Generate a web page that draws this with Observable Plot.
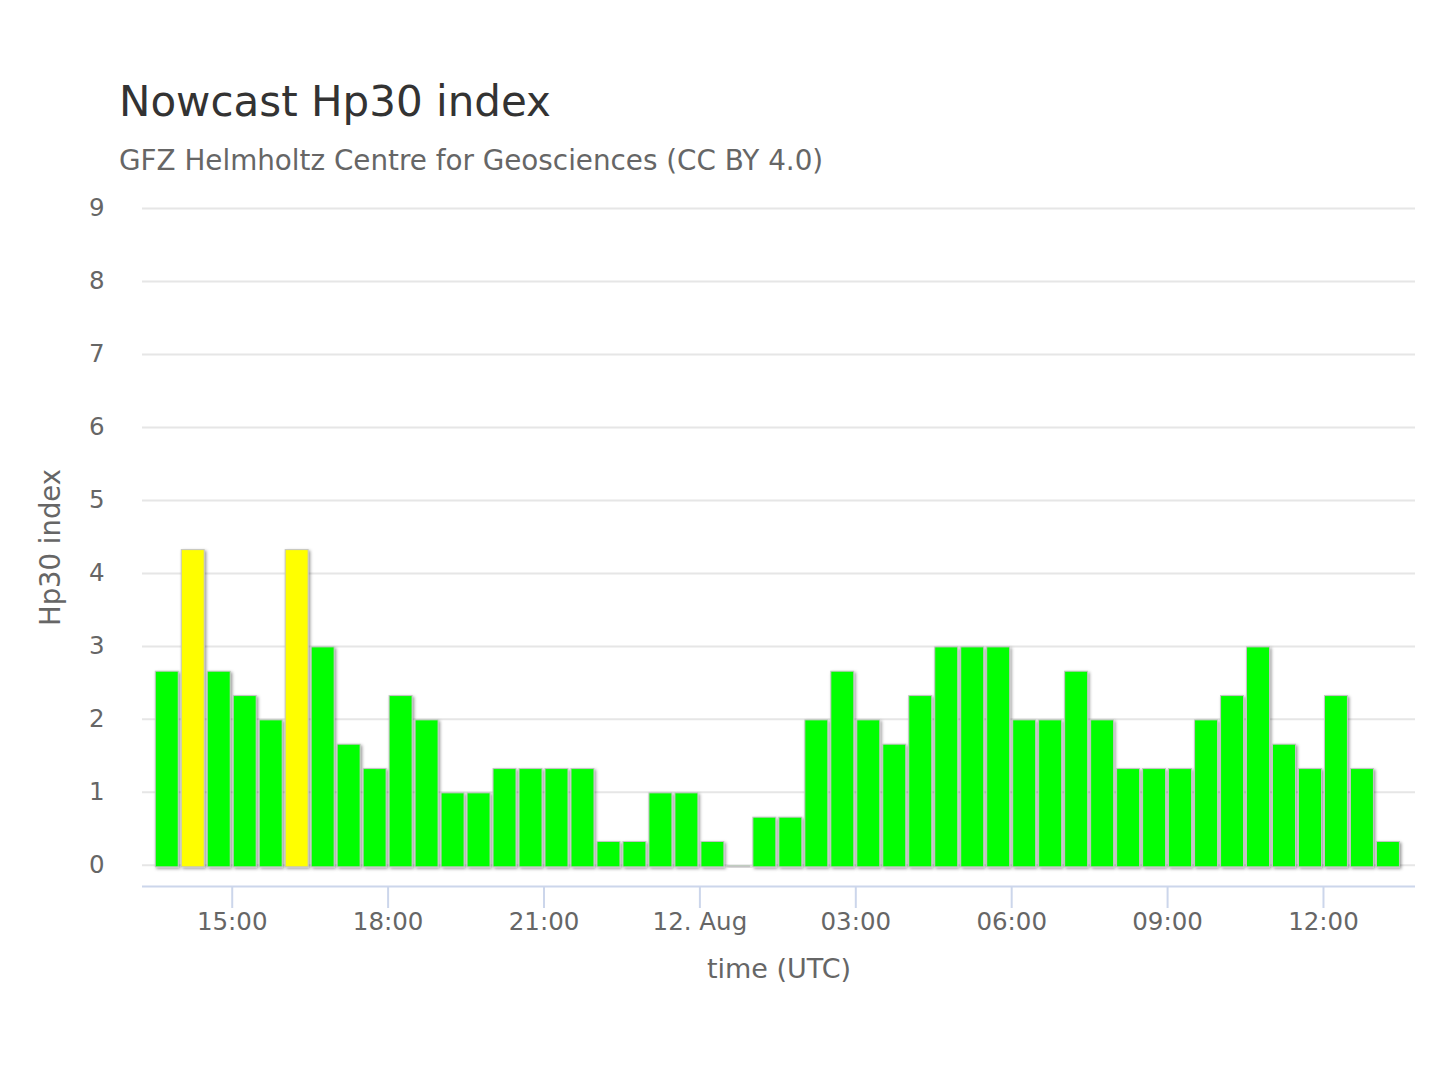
<!DOCTYPE html>
<html>
<head>
<meta charset="utf-8">
<script src="https://cdn.jsdelivr.net/npm/d3@7"></script>
<script src="https://cdn.jsdelivr.net/npm/@observablehq/plot@0.6"></script>
<style>
  html, body { margin: 0; padding: 0; background: #ffffff; }
  body { font-family: "DejaVu Sans", sans-serif; }
  #wrap { position: relative; width: 1440px; height: 1080px; overflow: hidden; }
  #title { position: absolute; left: 119px; top: 81px; font-size: 42px; line-height: 42px; color: #333333; white-space: nowrap; }
  #subtitle { position: absolute; left: 119px; top: 146.5px; font-size: 27.8px; line-height: 27.8px; color: #666666; white-space: nowrap; }
  #chart { position: absolute; left: 0; top: 190px; }
</style>
</head>
<body>
<div id="wrap">
  <div id="title">Nowcast Hp30 index</div>
  <div id="subtitle">GFZ Helmholtz Centre for Geosciences (CC BY 4.0)</div>
  <div id="chart"></div>
</div>
<script>
// 30-minute interval start times (UTC)
const intervalStarts = [
  "2024-08-11T13:30Z","2024-08-11T14:00Z","2024-08-11T14:30Z","2024-08-11T15:00Z",
  "2024-08-11T15:30Z","2024-08-11T16:00Z","2024-08-11T16:30Z","2024-08-11T17:00Z",
  "2024-08-11T17:30Z","2024-08-11T18:00Z","2024-08-11T18:30Z","2024-08-11T19:00Z",
  "2024-08-11T19:30Z","2024-08-11T20:00Z","2024-08-11T20:30Z","2024-08-11T21:00Z",
  "2024-08-11T21:30Z","2024-08-11T22:00Z","2024-08-11T22:30Z","2024-08-11T23:00Z",
  "2024-08-11T23:30Z","2024-08-12T00:00Z","2024-08-12T00:30Z","2024-08-12T01:00Z",
  "2024-08-12T01:30Z","2024-08-12T02:00Z","2024-08-12T02:30Z","2024-08-12T03:00Z",
  "2024-08-12T03:30Z","2024-08-12T04:00Z","2024-08-12T04:30Z","2024-08-12T05:00Z",
  "2024-08-12T05:30Z","2024-08-12T06:00Z","2024-08-12T06:30Z","2024-08-12T07:00Z",
  "2024-08-12T07:30Z","2024-08-12T08:00Z","2024-08-12T08:30Z","2024-08-12T09:00Z",
  "2024-08-12T09:30Z","2024-08-12T10:00Z","2024-08-12T10:30Z","2024-08-12T11:00Z",
  "2024-08-12T11:30Z","2024-08-12T12:00Z","2024-08-12T12:30Z","2024-08-12T13:00Z"
];
const intervalMinutes = 30;

// Hp30 index values
const hp30Values = [
  2.667, 4.333, 2.667, 2.333, 2.000, 4.333, 3.000, 1.667,
  1.333, 2.333, 2.000, 1.000, 1.000, 1.333, 1.333, 1.333,
  1.333, 0.333, 0.333, 1.000, 1.000, 0.333, 0.000, 0.667,
  0.667, 2.000, 2.667, 2.000, 1.667, 2.333, 3.000, 3.000,
  3.000, 2.000, 2.000, 2.667, 2.000, 1.333, 1.333, 1.333,
  2.000, 2.333, 3.000, 1.667, 1.333, 2.333, 1.333, 0.333
];

// Activity level colours
const levelThresholds = [0, 4];
const levelColors = ["#00ff00", "#ffff00"];

// Axis ticks
const yTicks = [0, 1, 2, 3, 4, 5, 6, 7, 8, 9];
const xTickTimes = [
  "2024-08-11T15:00Z","2024-08-11T18:00Z","2024-08-11T21:00Z","2024-08-12T00:00Z",
  "2024-08-12T03:00Z","2024-08-12T06:00Z","2024-08-12T09:00Z","2024-08-12T12:00Z"
];
const xDomain = ["2024-08-11T13:16:25Z", "2024-08-12T13:46:15Z"];
const yDomain = [-0.29, 9];

const colorFor = v => {
  let c = levelColors[0];
  levelThresholds.forEach((t, i) => { if (v >= t) c = levelColors[i]; });
  return c;
};

const data = intervalStarts.map((s, i) => {
  const start = new Date(s);
  return { start, end: new Date(+start + intervalMinutes * 60000), value: hp30Values[i], color: colorFor(hp30Values[i]) };
});

const fmtHM = d3.utcFormat("%H:%M");
const tickFormat = d => d.getUTCHours() === 0 && d.getUTCMinutes() === 0
  ? `${d.getUTCDate()}. ${d3.utcFormat("%b")(d)}` : fmtHM(d);

const plot = Plot.plot({
  width: 1440,
  height: 890,
  marginLeft: 142,
  marginRight: 25,
  marginTop: 18,
  marginBottom: 194,
  style: { fontFamily: "DejaVu Sans, sans-serif", background: "#ffffff", overflow: "visible" },
  x: { type: "utc", domain: xDomain.map(d => new Date(d)) },
  y: { domain: yDomain },
  marks: [
    Plot.gridY(yTicks, { stroke: "#e6e6e6", strokeOpacity: 1, strokeWidth: 2 }),
    Plot.rect(data, {
      x1: "start", x2: "end", y1: 0, y2: "value",
      fill: "color", stroke: "#c4c4c4", strokeWidth: 1,
      insetLeft: 1.5, insetRight: 1.5, insetTop: 1, insetBottom: -2
    }),
    Plot.ruleY([yDomain[0]], { stroke: "#ccd6eb", strokeWidth: 2 }),
    Plot.axisY({ ticks: yTicks, tickSize: 0, tickPadding: 38, fontSize: 24.5, fill: "#666666", label: null }),
    Plot.axisX({
      ticks: xTickTimes.map(d => new Date(d)), tickFormat,
      tickSize: 22, tickPadding: 4, stroke: "#ccd6eb", strokeWidth: 2,
      fill: "#666666", fontSize: 24.5, label: null
    }),
    Plot.text(["time (UTC)"], { frameAnchor: "bottom", lineAnchor: "middle", textAnchor: "middle", dy: 83, fontSize: 27, fill: "#666666" }),
    Plot.text(["Hp30 index"], { frameAnchor: "left", lineAnchor: "middle", textAnchor: "middle", rotate: -90, dx: -91, fontSize: 27.5, fill: "#666666" })
  ]
});

// Highcharts-like soft shadow on the columns
const svg = d3.select(plot);
const defs = svg.insert("defs", ":first-child");
const flt = defs.append("filter").attr("id", "colShadow")
  .attr("x", "-30%").attr("y", "-10%").attr("width", "170%").attr("height", "130%");
flt.append("feDropShadow").attr("dx", 1.5).attr("dy", 1.5).attr("stdDeviation", 1.8)
  .attr("flood-color", "#000000").attr("flood-opacity", 0.4);
svg.selectAll('g[aria-label="rect"] rect').attr("filter", "url(#colShadow)");

document.getElementById("chart").appendChild(plot);
</script>
</body>
</html>
